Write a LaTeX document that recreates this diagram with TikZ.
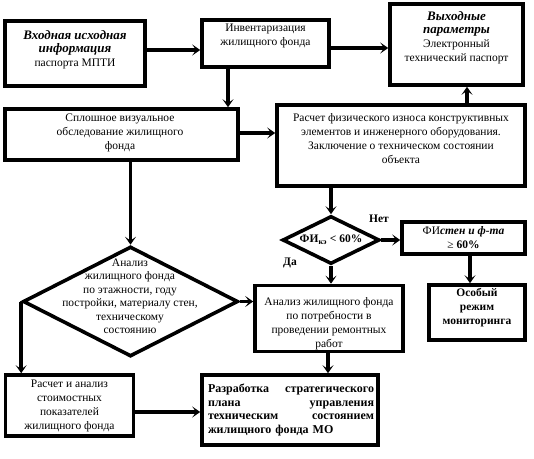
\documentclass[tikz,border=0pt]{standalone}
\usepackage{fontspec}
\setmainfont{Liberation Serif}
\usetikzlibrary{arrows.meta,shapes.geometric}
\newcommand\mybi[1]{{\fontsize{13}{16}\selectfont\bfseries\itshape #1}}
\begin{document}
\begin{tikzpicture}[x=1pt,y=-1pt,
  box/.style={draw, line width=3.6pt, inner sep=0pt},
  dia/.style={draw, diamond, line width=3.6pt, inner sep=0pt, aspect=2},
  conn/.style={line width=3.6pt, -{Stealth[length=8pt,width=11pt,inset=4pt]}},
  txt/.style={align=center, inner sep=0pt, font=\fontsize{11.5}{14}\selectfont},
  lbl/.style={inner sep=0pt, font=\fontsize{11.5}{14}\selectfont\bfseries},
]
\useasboundingbox (0,0) rectangle (534,458);

% boxes
\node[box, minimum width=140pt, minimum height=65pt] (inp) at (75,53.5) {};
\node[box, minimum width=127pt, minimum height=47pt] (inv) at (265.5,43.5) {};
\node[box, minimum width=133pt, minimum height=81pt] (out) at (456.5,44.5) {};
\node[box, minimum width=233pt, minimum height=51pt] (vis) at (121.5,134.5) {};
\node[box, minimum width=248pt, minimum height=81pt] (phys) at (401,145.5) {};
\node[box, minimum width=123pt, minimum height=32pt] (fi) at (463.5,238) {};
\node[box, minimum width=96pt, minimum height=55pt] (osob) at (477,312.5) {};
\node[box, minimum width=148pt, minimum height=66pt] (anal) at (329,318.5) {};
\node[box, minimum width=128pt, minimum height=61pt] (calc) at (69.5,405.5) {};
\node[box, minimum width=176pt, minimum height=70pt] (strat) at (290,410) {};
\node[dia, minimum width=97pt, minimum height=48pt] (sd) at (331,240) {};
\node[dia, minimum width=215pt, minimum height=110pt] (bd) at (130.5,301.5) {};

% texts
\node[txt] (inpT) at (75,50) {\mybi{Входная исходная}\\[-1pt]\mybi{информация}\\паспорта МПТИ};
\node[txt] (invT) at (265.5,36) {Инвентаризация\\жилищного фонда};
\node[txt] (outT) at (456.5,38) {\mybi{Выходные}\\[-1pt]\mybi{параметры}\\Электронный\\технический паспорт};
\node[txt] (visT) at (120,133) {Сплошное визуальное\\обследование жилищного\\фонда};
\node[txt] (physT) at (401,139) {Расчет физического износа конструктивных\\элементов и инженерного оборудования.\\Заключение о техническом состоянии\\объекта};
\node[txt, font=\fontsize{11.5}{13.5}\selectfont] (bdT) at (130,296.5) {Анализ\\жилищного фонда\\по этажности, году\\постройки, материалу стен,\\техническому\\состоянию};
\node[lbl] (sdT) at (331,240) {ФИ\textsubscript{кэ} < 60\%};
\node[txt] (fiT) at (463.5,238) {ФИ\textbf{\textit{стен и ф-та}}\\≥ \textbf{60\%}};
\node[txt, font=\fontsize{11.5}{14}\selectfont\bfseries] (osobT) at (477,308) {Особый\\режим\\мониторинга};
\node[txt] (analT) at (329,324) {Анализ жилищного фонда\\по потребности в\\проведении ремонтных\\работ};
\node[txt] (calcT) at (69.5,406) {Расчет и анализ\\стоимостных\\показателей\\жилищного фонда};
\node[inner sep=0pt, text width=166pt, align=left, font=\fontsize{12}{13.5}\selectfont\bfseries] (stratT) at (291,410) {Разработка\hfill стратегического\\плана\hfill управления\\техническим\hfill состоянием\\жилищного фонда МО};

\node[lbl] (net) at (379,219) {Нет};
\node[lbl] (da) at (290,263) {Да};

% connectors
\draw[conn] (inp.east|-0,50) -- (inv.west|-0,50);
\draw[conn] (inv.east|-0,48) -- (out.west|-0,48);
\draw[conn] (inv.south-|228,0) -- (vis.north-|228,0);
\draw[conn] (phys.north-|467,0) -- (out.south-|467,0);
\draw[conn] (vis.east|-0,133) -- (phys.west|-0,133);
\draw[conn] (phys.south-|sd.north) -- (sd.north);
\draw[conn] (sd.east) -- (fi.west|-sd.east);
\draw[conn] (fi.south-|470,0) -- (osob.north-|470,0);
\draw[conn] (sd.south) -- (anal.north-|sd.south);
\draw[conn] (vis.south-|bd.north) -- (bd.north);
\draw[conn] (bd.east) -- (anal.west|-bd.east);
\draw[conn] (bd.west) -- (calc.north-|bd.west);
\draw[conn] (calc.east|-0,412) -- (strat.west|-0,412);
\draw[conn] (anal.south-|328,0) -- (strat.north-|328,0);
\end{tikzpicture}
\end{document}
